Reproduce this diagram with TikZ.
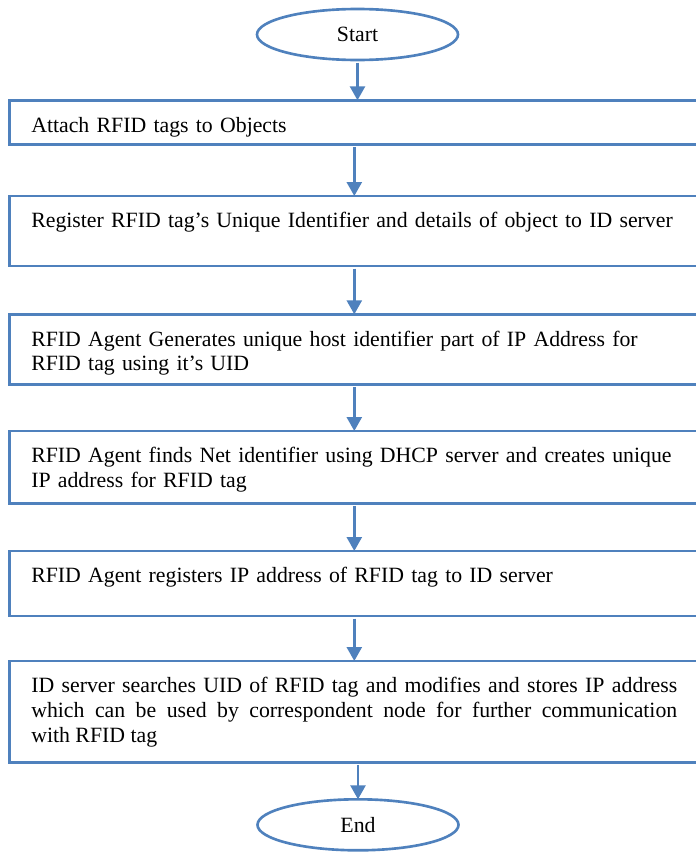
\documentclass[tikz,border=0pt]{standalone}
\usepackage{fontspec}
\setmainfont{Liberation Serif}
\usetikzlibrary{positioning}
\usetikzlibrary{shapes.geometric}
\usetikzlibrary{arrows.meta}
\definecolor{flowblue}{RGB}{79,129,189}

\begin{document}
\begin{tikzpicture}[
ovalnode/.style={ellipse, draw=flowblue, line width=1.5pt, minimum width=4.02cm, minimum height=1.02cm, inner sep=0pt, outer sep=0pt, font=\fontsize{12.4}{14.2}\selectfont},
boxnode/.style={rectangle, draw=flowblue, line width=1.5pt, text width=12.92cm, align=left, inner xsep=0.44cm, inner ysep=0pt, outer sep=0pt, text height=0.634cm, font=\fontsize{12.4}{14.2}\selectfont},
arrowline/.style={-{Triangle[width=0.3cm,length=0.28cm]}, draw=flowblue, line width=1.5pt, shorten <=0.05cm},
]

% Fix the page to the size of the figure
\useasboundingbox (0,0) rectangle (13.92,-17.06);

% Start node
\node[ovalnode]      (start)      at (7.15,-0.69)                          {Start};

% Process nodes
\node[boxnode, text depth=0.246cm]   (attach)     [below=0.806cm of start, xshift=-0.064cm] {Attach RFID tags to Objects};
\node[boxnode, text depth=0.766cm]   (register)   [below=1.034cm of attach]   {Register RFID tag’s Unique Identifier and details of object to ID server};
\node[boxnode, text depth=0.766cm]   (hostid)     [below=0.966cm of register] {RFID Agent Generates unique host identifier part of IP Address for\\RFID tag using it’s UID};
\node[boxnode, text depth=0.812cm]   (netid)      [below=0.934cm of hostid]   {RFID Agent finds Net identifier using DHCP server and creates unique\\IP address for RFID tag};
\node[boxnode, text depth=0.666cm]   (agentreg)   [below=0.954cm of netid]    {RFID Agent registers IP address of RFID tag to ID server};
\node[boxnode, text depth=1.392cm, align=justify] (idsearch) [below=0.9cm of agentreg] {ID server searches UID of RFID tag and modifies and stores IP address\linebreak which can be used by correspondent node for further communication\linebreak with RFID tag};

% End node
\node[ovalnode]      (stop)       [below=0.74cm of idsearch, xshift=0.074cm] {End};

\draw[arrowline] (start.south) -- (start.south |- attach.north);
\draw[arrowline] (attach) -- (register);
\draw[arrowline] (register) -- (hostid);
\draw[arrowline] (hostid) -- (netid);
\draw[arrowline] (netid) -- (agentreg);
\draw[arrowline] (agentreg) -- (idsearch);
\draw[arrowline] (idsearch.south -| stop.north) -- (stop.north);
\end{tikzpicture}
\end{document}
